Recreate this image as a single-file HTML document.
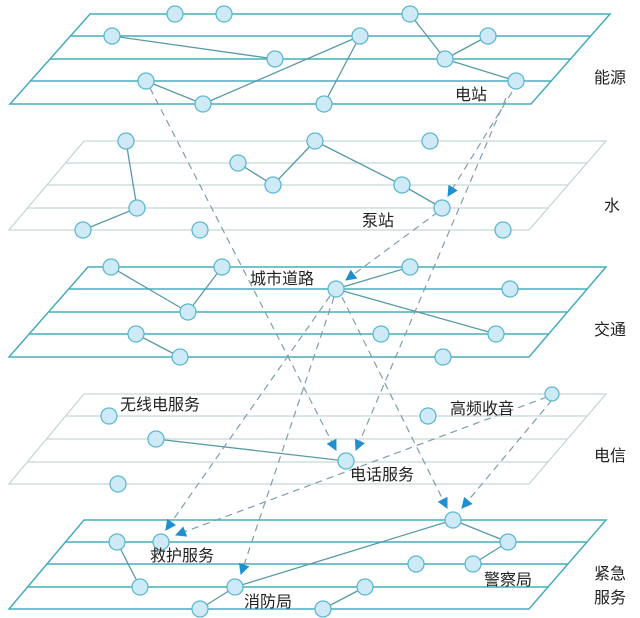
<!DOCTYPE html>
<html><head><meta charset="utf-8"><style>
html,body{margin:0;padding:0;background:#fff;}
svg{display:block;}
text{font-family:"Liberation Sans","Noto Sans CJK SC",sans-serif;font-size:16px;fill:#222;}
</style></head><body>
<svg width="640" height="618" viewBox="0 0 640 618" xmlns="http://www.w3.org/2000/svg">
<defs>
<marker id="ar" viewBox="0 0 10 10" refX="9" refY="5" markerWidth="11" markerHeight="11" orient="auto-start-reverse" markerUnits="userSpaceOnUse">
<path d="M0,0 L10,5 L0,10 z" fill="#1e90d0"/></marker>
</defs>
<g stroke="#45adbd" stroke-width="1.5" fill="none">
<polygon points="90,14 610,14 531,104 10,104"/>
<line x1="70" y1="36" x2="591" y2="36"/><line x1="50" y1="59" x2="571" y2="59"/><line x1="30" y1="81" x2="551" y2="81"/>
</g>
<g stroke="#5a9aa5" stroke-width="1.3">
<line x1="410" y1="14" x2="445" y2="59"/><line x1="488" y1="36" x2="445" y2="59"/><line x1="445" y1="59" x2="516" y2="81"/>
<line x1="112" y1="36" x2="275" y2="59"/><line x1="360" y1="36" x2="203" y2="104"/><line x1="146" y1="81" x2="203" y2="104"/><line x1="360" y1="36" x2="324" y2="104"/>
</g>
<g stroke="#c5d6d8" stroke-width="1.3" fill="none">
<polygon points="84,141 606,141 529,230 9,230"/>
<line x1="65" y1="163" x2="587" y2="163"/><line x1="47" y1="185" x2="568" y2="185"/><line x1="28" y1="208" x2="548" y2="208"/>
</g>
<g stroke="#5a9aa5" stroke-width="1.3">
<line x1="126" y1="141" x2="137" y2="208"/><line x1="137" y1="208" x2="83" y2="230"/><line x1="238" y1="163" x2="273" y2="185"/><line x1="273" y1="185" x2="315" y2="141"/><line x1="315" y1="141" x2="402" y2="185"/><line x1="402" y1="185" x2="442" y2="208"/>
</g>
<g stroke="#45adbd" stroke-width="1.5" fill="none">
<polygon points="88,267 606,267 529,357 9,357"/>
<line x1="69" y1="289" x2="587" y2="289"/><line x1="49" y1="312" x2="567" y2="312"/><line x1="29" y1="334" x2="548" y2="334"/>
</g>
<g stroke="#5a9aa5" stroke-width="1.3">
<line x1="111" y1="267" x2="188" y2="312"/><line x1="188" y1="312" x2="222" y2="267"/><line x1="336" y1="289" x2="410" y2="267"/><line x1="336" y1="289" x2="496" y2="334"/><line x1="136" y1="334" x2="180" y2="357"/>
</g>
<g stroke="#c5d6d8" stroke-width="1.3" fill="none">
<polygon points="84,394 606,394 529,484 9,484"/>
<line x1="65" y1="416" x2="587" y2="416"/><line x1="47" y1="439" x2="568" y2="439"/><line x1="28" y1="462" x2="548" y2="462"/>
</g>
<g stroke="#5a9aa5" stroke-width="1.3"><line x1="156" y1="439" x2="346" y2="461"/></g>
<g stroke="#45adbd" stroke-width="1.5" fill="none">
<polygon points="84,520 606,520 529,609 9,609"/>
<line x1="65" y1="542" x2="587" y2="542"/><line x1="47" y1="564" x2="568" y2="564"/><line x1="28" y1="587" x2="548" y2="587"/>
</g>
<g stroke="#5a9aa5" stroke-width="1.3">
<line x1="117" y1="542" x2="140" y2="587"/><line x1="235" y1="587" x2="453" y2="520"/><line x1="453" y1="520" x2="508" y2="542"/><line x1="508" y1="542" x2="473" y2="564"/><line x1="200" y1="609" x2="235" y2="587"/><line x1="323" y1="609" x2="365" y2="587"/>
</g>
<g stroke="#7f9eaa" stroke-width="1.2" stroke-dasharray="7,5" fill="none" marker-end="url(#ar)">
<line x1="150" y1="88" x2="336" y2="450"/>
<line x1="512" y1="92" x2="448" y2="196"/>
<line x1="506" y1="98" x2="356" y2="450"/>
<line x1="438" y1="212" x2="346" y2="280"/>
<line x1="330" y1="296" x2="166" y2="530"/>
<line x1="334" y1="297" x2="241" y2="574"/>
<line x1="342" y1="297" x2="447" y2="508"/>
<line x1="547" y1="397" x2="176" y2="535"/>
<line x1="552" y1="400" x2="462" y2="508"/>
</g>
<g fill="#cdeaf6" stroke="#5db8cf" stroke-width="1.3">
<circle cx="175" cy="14" r="8"/><circle cx="224" cy="14" r="8"/><circle cx="410" cy="14" r="8"/><circle cx="112" cy="36" r="8"/><circle cx="360" cy="36" r="8"/><circle cx="488" cy="36" r="8"/><circle cx="275" cy="59" r="8"/><circle cx="445" cy="59" r="8"/><circle cx="146" cy="81" r="8"/><circle cx="516" cy="81" r="8"/><circle cx="203" cy="104" r="8"/><circle cx="324" cy="104" r="8"/>
<circle cx="126" cy="141" r="8"/><circle cx="315" cy="141" r="8"/><circle cx="430" cy="141" r="8"/><circle cx="238" cy="163" r="8"/><circle cx="273" cy="185" r="8"/><circle cx="402" cy="185" r="8"/><circle cx="137" cy="208" r="8"/><circle cx="442" cy="208" r="8"/><circle cx="83" cy="230" r="8"/><circle cx="200" cy="230" r="8"/><circle cx="503" cy="230" r="8"/>
<circle cx="111" cy="267" r="8"/><circle cx="222" cy="267" r="8"/><circle cx="410" cy="267" r="8"/><circle cx="336" cy="289" r="8"/><circle cx="510" cy="289" r="8"/><circle cx="188" cy="312" r="8"/><circle cx="136" cy="334" r="8"/><circle cx="381" cy="334" r="8"/><circle cx="496" cy="334" r="8"/><circle cx="180" cy="357" r="8"/><circle cx="443" cy="357" r="8"/>
<circle cx="552" cy="394" r="7"/><circle cx="109" cy="416" r="8"/><circle cx="428" cy="416" r="8"/><circle cx="156" cy="439" r="8"/><circle cx="346" cy="461" r="8"/><circle cx="118" cy="484" r="8"/>
<circle cx="453" cy="520" r="8"/><circle cx="117" cy="542" r="8"/><circle cx="161" cy="542" r="8"/><circle cx="508" cy="542" r="8"/><circle cx="416" cy="564" r="8"/><circle cx="473" cy="564" r="8"/><circle cx="140" cy="587" r="8"/><circle cx="235" cy="587" r="8"/><circle cx="365" cy="587" r="8"/><circle cx="200" cy="609" r="8"/><circle cx="323" cy="609" r="8"/>
</g>
<text x="455" y="100">电站</text>
<text x="594" y="83">能源</text>
<text x="362" y="226">泵站</text>
<text x="604" y="211">水</text>
<text x="250" y="284">城市道路</text>
<text x="594" y="335">交通</text>
<text x="120" y="410">无线电服务</text>
<text x="450" y="414">高频收音</text>
<text x="350" y="480">电话服务</text>
<text x="594" y="461">电信</text>
<text x="150" y="561">救护服务</text>
<text x="484" y="585">警察局</text>
<text x="244" y="607">消防局</text>
<text x="594" y="579">紧急</text>
<text x="594" y="603">服务</text>
</svg>
</body></html>
